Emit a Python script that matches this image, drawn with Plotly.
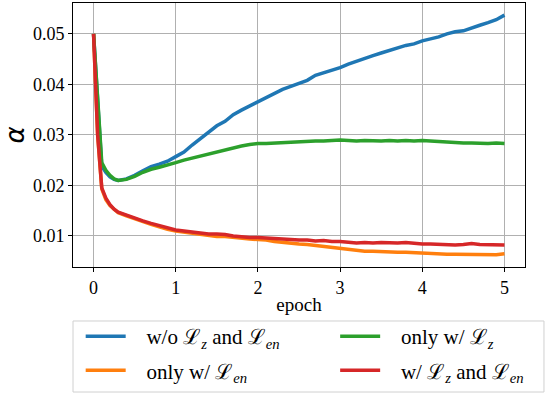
import plotly.graph_objects as go

epochs = [0, 0.05, 0.1, 0.15, 0.2, 0.25, 0.3, 0.4, 0.5, 0.6, 0.7, 0.8, 0.9,
          1.0, 1.1, 1.2, 1.3, 1.4, 1.5, 1.6, 1.7, 1.8, 1.9,
          2.0, 2.1, 2.2, 2.3, 2.4, 2.5, 2.6, 2.7, 2.8, 2.9,
          3.0, 3.1, 3.2, 3.3, 3.4, 3.5, 3.6, 3.7, 3.8, 3.9,
          4.0, 4.1, 4.2, 4.3, 4.4, 4.5, 4.6, 4.7, 4.8, 4.9, 5.0]

wo_both = [0.050, 0.036, 0.0238, 0.0226, 0.0217, 0.0212, 0.0210, 0.0213, 0.0220, 0.0229, 0.0237, 0.0242, 0.0248,
           0.0257, 0.0266, 0.0280, 0.0293, 0.0305, 0.0318, 0.0327, 0.0340, 0.0349, 0.0357,
           0.0366, 0.0373, 0.0382, 0.0390, 0.0396, 0.0402, 0.0408, 0.0418, 0.0423, 0.0428,
           0.0433, 0.0440, 0.0446, 0.0452, 0.0457, 0.0462, 0.0467, 0.0472, 0.0477, 0.0480,
           0.0486, 0.0490, 0.0494, 0.0500, 0.0504, 0.0506, 0.0512, 0.0517, 0.0522, 0.0528, 0.0537]

only_en = [0.050, 0.030, 0.0193, 0.0172, 0.0160, 0.0152, 0.0146, 0.0140, 0.0134, 0.0128, 0.0123, 0.0118, 0.0113,
           0.0110, 0.0108, 0.0106, 0.0103, 0.0101, 0.0099, 0.0099, 0.0097, 0.0096, 0.0094,
           0.0093, 0.0092, 0.0089, 0.0087, 0.0086, 0.0084, 0.0083, 0.0081, 0.0079, 0.0077,
           0.0076, 0.0074, 0.0072, 0.0070, 0.0070, 0.0069, 0.0069, 0.0068, 0.0068, 0.0067,
           0.0067, 0.0066, 0.0065, 0.0064, 0.0064, 0.0064, 0.0063, 0.0063, 0.0063, 0.0063, 0.0065]

only_z = [0.050, 0.036, 0.0245, 0.0230, 0.0220, 0.0213, 0.0210, 0.0212, 0.0218, 0.0226, 0.0232, 0.0236, 0.0240,
          0.0245, 0.0250, 0.0254, 0.0258, 0.0262, 0.0267, 0.0271, 0.0275, 0.0278, 0.0281,
          0.0283, 0.0283, 0.0284, 0.0285, 0.0286, 0.0286, 0.0287, 0.0288, 0.0288, 0.0289,
          0.0290, 0.0289, 0.0288, 0.0289, 0.0288, 0.0288, 0.0289, 0.0288, 0.0289, 0.0288,
          0.0289, 0.0288, 0.0286, 0.0285, 0.0284, 0.0284, 0.0284, 0.0283, 0.0283, 0.0284, 0.0283]

w_both = [0.050, 0.030, 0.0195, 0.0175, 0.0162, 0.0153, 0.0147, 0.0141, 0.0136, 0.0130, 0.0125, 0.0121, 0.0116,
          0.0112, 0.0110, 0.0108, 0.0105, 0.0104, 0.0104, 0.0103, 0.0100, 0.0098, 0.0097,
          0.0097, 0.0096, 0.0094, 0.0093, 0.0093, 0.0092, 0.0092, 0.0090, 0.0091, 0.0089,
          0.0089, 0.0088, 0.0086, 0.0087, 0.0086, 0.0087, 0.0086, 0.0086, 0.0087, 0.0085,
          0.0084, 0.0084, 0.0083, 0.0083, 0.0082, 0.0083, 0.0085, 0.0083, 0.0083, 0.0082, 0.0082]

x_ticks = [0, 1, 2, 3, 4, 5]
y_ticks = [0.01, 0.02, 0.03, 0.04, 0.05]
y_tick_labels = ["0.01", "0.02", "0.03", "0.04", "0.05"]

L = "ℒ"
NB = "\u00a0\u00a0\u00a0"
series = [
    (f"{NB}w/o {L}<sub><i>z</i></sub> and {L}<sub><i>en</i></sub>", wo_both, "#1f77b4", "legend"),
    (f"{NB}only w/ {L}<sub><i>en</i></sub>", only_en, "#ff7f0e", "legend2"),
    (f"{NB}only w/ {L}<sub><i>z</i></sub>", only_z, "#2ca02c", "legend3"),
    (f"{NB}w/ {L}<sub><i>z</i></sub> and {L}<sub><i>en</i></sub>", w_both, "#d62728", "legend4"),
]

fig = go.Figure()
for name, ys, color, lg in series:
    fig.add_trace(go.Scatter(x=epochs, y=ys, mode="lines", name=name,
                             line=dict(color=color, width=3.5), legend=lg))

serif = "Liberation Serif"
leg_common = dict(orientation="v", yanchor="top", xanchor="left",
                  bgcolor="rgba(0,0,0,0)", borderwidth=0,
                  font=dict(family=serif, size=21, color="black"),
                  itemwidth=40, tracegroupgap=0)

fig.update_layout(
    width=547, height=394,
    margin=dict(l=73, r=22, t=3, b=127, autoexpand=False),
    paper_bgcolor="white", plot_bgcolor="white",
    font=dict(family=serif, size=17, color="black"),
    showlegend=True,
    legend=dict(x=0.017, y=-0.186, **leg_common),
    legend2=dict(x=0.017, y=-0.315, **leg_common),
    legend3=dict(x=0.58, y=-0.186, **leg_common),
    legend4=dict(x=0.58, y=-0.315, **leg_common),
    xaxis=dict(range=[-0.25, 5.25], tickvals=x_ticks, showgrid=True,
               gridcolor="#b0b0b0", gridwidth=1, zeroline=False,
               showline=True, linecolor="black", linewidth=1, mirror=True,
               ticks="outside", ticklen=4, tickcolor="black",
               title=dict(text="epoch", font=dict(family=serif, size=19), standoff=1),
               tickfont=dict(family=serif, size=18)),
    yaxis=dict(range=[0.00386, 0.0561], tickvals=y_ticks, ticktext=y_tick_labels,
               showgrid=True, gridcolor="#b0b0b0", gridwidth=1, zeroline=False,
               showline=True, linecolor="black", linewidth=1, mirror=True,
               ticks="outside", ticklen=4, tickcolor="black",
               title=dict(text="<i>α</i>", font=dict(family="DejaVu Sans", size=26), standoff=8),
               tickfont=dict(family=serif, size=18)),
    shapes=[dict(type="rect", xref="paper", yref="paper",
                 x0=0, x1=1.042, y0=-0.4735, y1=-0.2045,
                 line=dict(color="#d0d0d0", width=1), fillcolor="rgba(0,0,0,0)")],
)

fig.write_html("out.html", config={"displayModeBar": False},
               post_script="document.body.style.margin='0';")
